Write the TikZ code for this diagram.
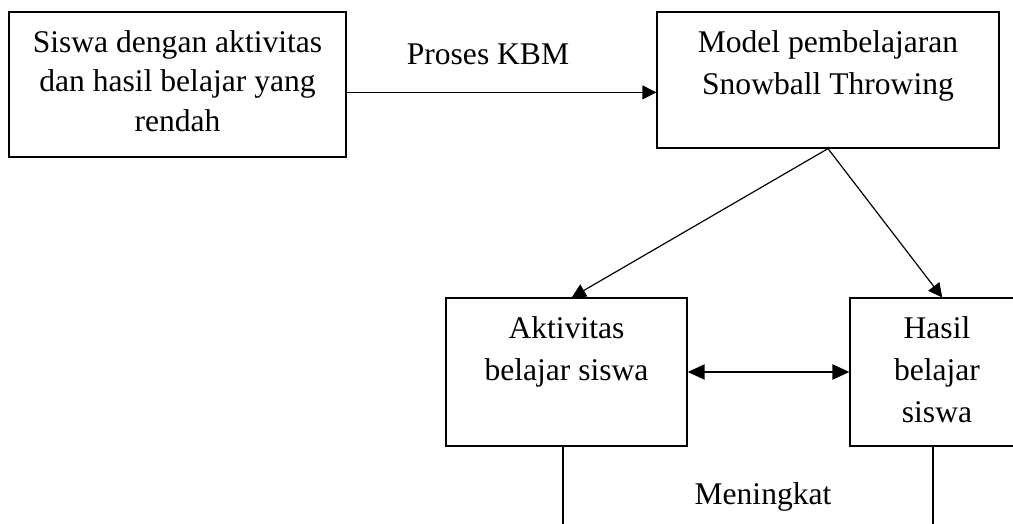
\documentclass[tikz,border=0pt]{standalone}
\usepackage{fontspec}
\setmainfont{Liberation Serif}
\usetikzlibrary{arrows.meta}

\begin{document}
\begin{tikzpicture}[x=0.38pt, y=-0.38pt]
    \tikzstyle box=[draw, line width=0.45pt, inner sep=0pt]
    \tikzstyle boxtext=[align=center, inner sep=0pt, anchor=north, font=\fontsize{12}{16}\selectfont]
    \tikzstyle plaintext=[inner sep=0pt, anchor=base, font=\fontsize{12}{14}\selectfont]
    \tikzstyle connector=[line width=0.45pt]
    \tikzstyle arrowline=[line width=0.45pt, -{Triangle[length=5.3pt,width=5.3pt]}]
    \tikzstyle bothline=[line width=0.9pt, {Triangle[length=6.5pt,width=5.7pt]}-{Triangle[length=6.5pt,width=5.7pt]}]
    \clip (0,0) rectangle (1013,524);
    % boxes
    \node[box, minimum width=128.1pt, minimum height=55.1pt] (siswa) at (177.5,84.5) {};
    \node[box, minimum width=130pt, minimum height=51.7pt] (model) at (828,80) {};
    \node[box, minimum width=91.6pt, minimum height=56.2pt] (aktivitas) at (566.5,372) {};
    \node[box, minimum width=66.1pt, minimum height=56.2pt] (hasil) at (937,372) {};
    % texts
    \node[boxtext, font=\fontsize{12}{15}\selectfont] (siswatext) at ([yshift=-7pt]siswa.north)
    {Siswa dengan aktivitas\\dan hasil belajar yang\\rendah};
    \node[boxtext] (modeltext) at ([yshift=-7pt]model.north)
    {Model pembelajaran\\Snowball Throwing};
    \node[boxtext] (aktivitastext) at ([yshift=-7pt]aktivitas.north)
    {Aktivitas\\belajar siswa};
    \node[boxtext] (hasiltext) at ([yshift=-7pt]hasil.north)
    {Hasil\\belajar\\siswa};
    \node[plaintext] (proses) at (488,64) {Proses KBM};
    \node[plaintext] (meningkat) at (763,504) {Meningkat};
    % connectors
    \draw[arrowline] ([yshift=-3pt]siswa.east) -- ([yshift=-3pt]siswa.east -| model.west);
    \draw[arrowline] (model.south) -- ([xshift=2pt]aktivitas.north);
    \draw[arrowline] (model.south) -- ([xshift=2pt]hasil.north);
    \draw[bothline] (aktivitas.east) -- (hasil.west);
    \coordinate (endaktivitas) at (563,530);
    \coordinate (endhasil) at (933,530);
    \draw[connector] (aktivitas.south -| endaktivitas) -- (endaktivitas);
    \draw[connector] (hasil.south -| endhasil) -- (endhasil);
\end{tikzpicture}
\end{document}
